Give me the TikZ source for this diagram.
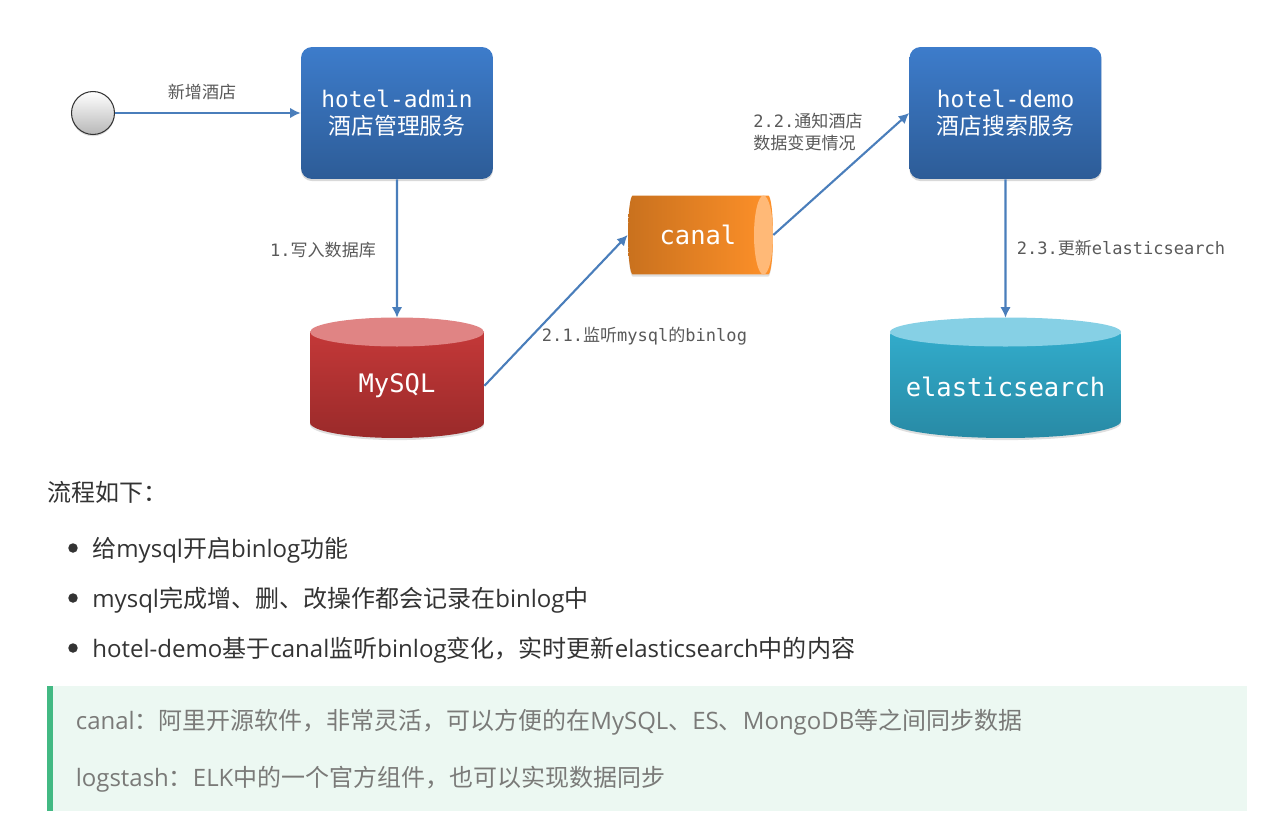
\documentclass[tikz,border=0pt]{standalone}
\usepackage{fontspec}
\setmainfont{Open Sans}
\setmonofont{DejaVu Sans Mono}
\newfontfamily\cjk{Noto Sans CJK SC}
\newcommand{\zh}[1]{{\cjk #1}}
\newcommand{\zhcomma}{^^^^ff0c}
\newcommand{\zhcolon}{^^^^ff1a}
\usetikzlibrary{shapes.geometric, shadows, arrows.meta}
\definecolor{linkblue}{HTML}{4A7EBB}
\definecolor{bodygray}{HTML}{333333}
\definecolor{notegray}{HTML}{7A7A78}
\definecolor{blue1}{HTML}{3D7CCB}
\definecolor{blue2}{HTML}{2D5C97}
\definecolor{red1}{HTML}{C93A3A}
\definecolor{red2}{HTML}{9A2A2A}
\definecolor{redtop}{HTML}{E08484}
\definecolor{cyan1}{HTML}{33B0D0}
\definecolor{cyan2}{HTML}{288AA5}
\definecolor{cyantop}{HTML}{86D0E5}
\definecolor{orange1}{HTML}{C9711E}
\definecolor{orange2}{HTML}{FF9129}
\definecolor{orangetop}{HTML}{FFB977}
\definecolor{tipfill}{HTML}{ECF8F2}
\definecolor{tipbar}{HTML}{42B983}

\tikzset{
    service/.style={rounded corners=0.22cm, minimum width=3.84cm, minimum height=2.64cm, align=center, text=white,
        top color=blue1, bottom color=blue2, inner sep=0pt,
        font=\fontsize{13}{15.5}\selectfont\ttfamily,
        drop shadow={opacity=0.3, shadow xshift=0pt, shadow yshift=-1.2pt}},
    store/.style={cylinder, shape border rotate=90, anchor=shape center, text=white, inner sep=0pt,
        font=\fontsize{14.5}{17}\selectfont\ttfamily,
        drop shadow={opacity=0.25, shadow xshift=0pt, shadow yshift=-1.2pt}},
    link/.style={draw=linkblue, line width=1.2pt, -{Latex[length=6pt, width=6pt]}},
    note/.style={font=\fontsize{9.7}{12.5}\selectfont\ttfamily, text=black!65, inner sep=0pt, align=left},
    body/.style={anchor=west, font=\fontsize{13.67}{16}\selectfont, text=bodygray, inner sep=0pt},
    tip/.style={anchor=west, font=\fontsize{13.65}{16}\selectfont, text=notegray, inner sep=0pt},
    dot/.style={circle, fill=bodygray, minimum size=0.19cm, inner sep=0pt},
}

\begin{document}
\begin{tikzpicture}[x=0.02cm, y=-0.02cm]
    \useasboundingbox (0, 0) rectangle (1285, 818);

    % services
    \node[circle, draw=black!80, line width=0.6pt, minimum size=0.86cm, inner sep=0pt, top color=white, bottom color=black!28,
        drop shadow={opacity=0.25, shadow xshift=0pt, shadow yshift=-1pt}] (user) at (93, 113) {};
    \node[service] (admin) at (397, 113) {hotel-admin\\\zh{酒店管理服务}};
    \node[service] (demo) at (1005.5, 113) {hotel-demo\\\zh{酒店搜索服务}};

    % stores
    \node[store, aspect=0.4, minimum height=2.4cm, minimum width=3.48cm, top color=red1, bottom color=red2] (mysql) at (397, 378) {MySQL};
    \node[store, aspect=0.17, minimum height=2.4cm, minimum width=4.62cm, top color=cyan1, bottom color=cyan2] (es) at (1005.5, 378) {elasticsearch};
    \fill[redtop] (397, 332) ellipse [x radius=87, y radius=14.5];
    \fill[cyantop] (1005.5, 332) ellipse [x radius=115.5, y radius=14.5];

    % canal
    \node[store, shape border rotate=0, aspect=0.48, minimum height=2.9cm, minimum width=1.58cm, left color=orange1, right color=orange2] (canal) at (700.5, 235) {canal};
    \fill[orangetop] (763.5, 235) ellipse [x radius=9.5, y radius=39.5];

    % connectors
    \draw[link] (user) -- (admin);
    \draw[link] (admin) -- (mysql);
    \draw[link] (mysql.east) -- (canal.west);
    \draw[link] (canal.east) -- (demo.west);
    \draw[link] (demo) -- (es);

    % labels
    \node[note] (addnote) at (202, 92) {\zh{新增酒店}};
    \node[note] (writenote) at (323, 250) {1.\zh{写入数据库}};
    \node[note] (listennote) at (644.5, 336) {2.1.\zh{监听}mysql\zh{的}binlog};
    \node[note] (tellnote) at (808, 132) {2.2.\zh{通知酒店}\\\zh{数据变更情况}};
    \node[note] (updatenote) at (1121, 248) {2.3.\zh{更新}elasticsearch};

    % text below
    \node[body] (flow) at (47, 492) {\zh{流程如下\zhcolon}};
    \node[dot] (dota) at (73, 548) {};
    \node[dot] (dotb) at (73, 598) {};
    \node[dot] (dotc) at (73, 648) {};
    \node[body] (linea) at (92, 550) {\zh{给}mysql\zh{开启}binlog\zh{功能}};
    \node[body] (lineb) at (92, 600) {mysql\zh{完成增、删、改操作都会记录在}binlog\zh{中}};
    \node[body] (linec) at (92, 650) {hotel-demo\zh{基于}canal\zh{监听}binlog\zh{变化\zhcomma 实时更新}elasticsearch\zh{中的内容}};

    % tip box
    \fill[tipfill] (47, 686) rectangle (1247, 811);
    \fill[tipbar] (47, 686) rectangle (53, 811);
    \node[tip] (tipa) at (75.5, 722) {canal\zh{\zhcolon 阿里开源软件\zhcomma 非常灵活\zhcomma 可以方便的在}MySQL\zh{、}ES\zh{、}MongoDB\zh{等之间同步数据}};
    \node[tip] (tipb) at (75.5, 779) {logstash\zh{\zhcolon}ELK\zh{中的一个官方组件\zhcomma 也可以实现数据同步}};
\end{tikzpicture}
\end{document}
